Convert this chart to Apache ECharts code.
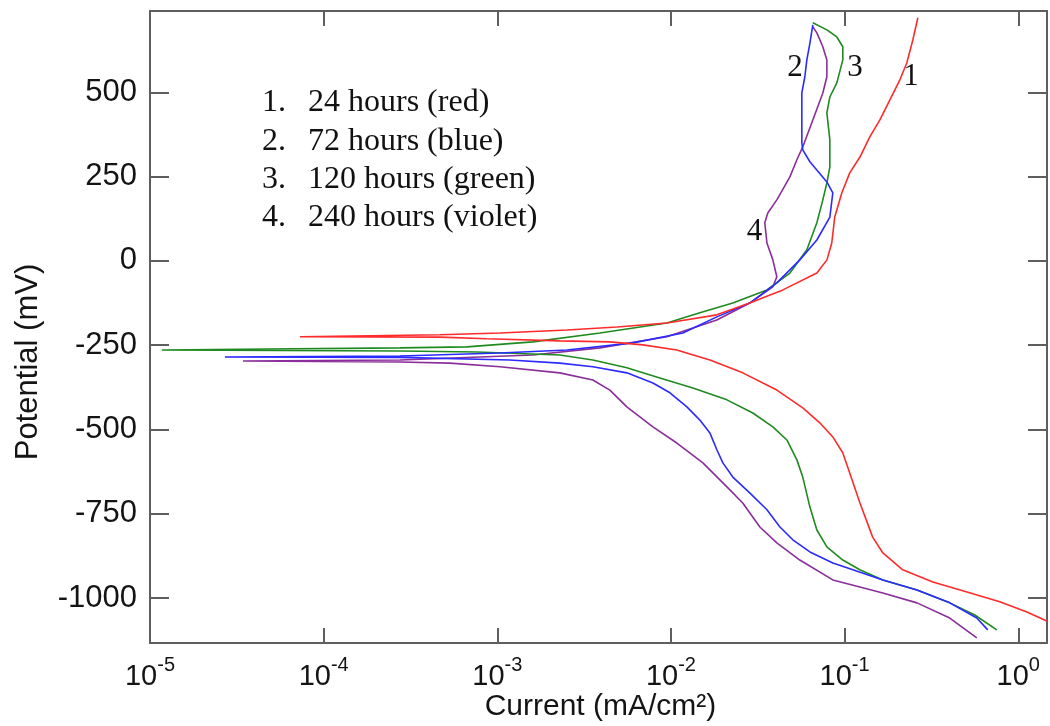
<!DOCTYPE html>
<html>
<head>
<meta charset="utf-8">
<script src="https://cdn.jsdelivr.net/npm/echarts@6/dist/echarts.min.js"></script>
<style>
  html, body { margin: 0; padding: 0; background: #fff; }
  #chart { width: 1050px; height: 726px; }
</style>
</head>
<body>
<div id="chart"></div>
<script>
// Potentiodynamic polarization curves: [current density (mA/cm²), potential (mV)]
// Each scan runs from the cathodic end up through Ecorr and on to the anodic end.
const curve24h = [
  [1.459, -1068], [1.12, -1041], [0.782, -1011], [0.506, -982], [0.322, -952],
  [0.216, -916], [0.166, -866], [0.145, -819], [0.1225, -718], [0.107, -629],
  [0.0975, -569], [0.0855, -522], [0.0719, -480], [0.0574, -436], [0.0407, -383],
  [0.0259, -332], [0.01675, -294], [0.0108, -264], [0.00689, -249], [0.00445, -240],
  [0.00229, -237], [0.00087, -231], [0.000468, -226], [7.3e-5, -225],
  [7.3e-5, -222], [0.000468, -219], [0.001035, -214], [0.00252, -205], [0.00489, -196],
  [0.00946, -184], [0.01837, -160], [0.0284, -125], [0.0441, -86], [0.0692, -36],
  [0.0791, 3], [0.0843, 53], [0.0877, 130], [0.0964, 202], [0.107, 261],
  [0.1225, 308], [0.1396, 368], [0.1596, 418], [0.182, 477], [0.208, 537],
  [0.228, 587], [0.247, 655], [0.264, 721]
];

const curve72h = [
  [0.667, -1094], [0.577, -1059], [0.403, -1014], [0.261, -976], [0.166, -946],
  [0.1115, -916], [0.0855, -896], [0.0631, -863], [0.0503, -827], [0.0424, -789],
  [0.0357, -738], [0.0284, -688], [0.0227, -641], [0.0199, -599], [0.01837, -560],
  [0.01675, -510], [0.01467, -472], [0.01235, -433], [0.00986, -391], [0.00787, -362],
  [0.00557, -332], [0.00355, -314], [0.00229, -303], [0.00118, -294], [0.000275, -286],
  [2.7e-5, -285],
  [0.000275, -282], [0.001035, -273], [0.00252, -264], [0.00604, -243], [0.01171, -214],
  [0.01837, -166], [0.0284, -125], [0.0407, -65], [0.0552, 3], [0.0692, 62],
  [0.0822, 130], [0.0855, 202], [0.079, 234], [0.0631, 294], [0.0574, 329],
  [0.0567, 350], [0.0567, 418], [0.0567, 498], [0.059, 546], [0.0606, 596],
  [0.0631, 646], [0.0656, 700]
];

const curve120h = [
  [0.752, -1094], [0.562, -1050], [0.403, -1014], [0.261, -976], [0.166, -946],
  [0.1223, -916], [0.0976, -887], [0.079, -848], [0.0692, -798], [0.0631, -730],
  [0.0574, -641], [0.0531, -590], [0.0465, -531], [0.0386, -492], [0.0296, -451],
  [0.021, -412], [0.01337, -377], [0.00863, -347], [0.00557, -317], [0.00355, -294],
  [0.00229, -279], [0.000763, -270], [0.000275, -267], [1.17e-5, -264],
  [1.17e-5, -261], [0.000275, -258], [0.000668, -255], [0.0016, -240], [0.0039, -214],
  [0.00947, -184], [0.01467, -154], [0.0227, -125], [0.0357, -86], [0.0484, -36],
  [0.0606, 33], [0.0692, 113], [0.0749, 181], [0.079, 231], [0.0822, 279],
  [0.0822, 359], [0.079, 439], [0.0822, 486], [0.0902, 528], [0.0976, 596],
  [0.0976, 635], [0.0902, 664], [0.079, 685], [0.0656, 706]
];

const curve240h = [
  [0.577, -1118], [0.403, -1059], [0.261, -1014], [0.166, -985], [0.1223, -967],
  [0.0855, -946], [0.0552, -887], [0.0407, -836], [0.0325, -789], [0.0259, -718],
  [0.021, -670], [0.01527, -599], [0.01081, -540], [0.00787, -492], [0.00557, -433],
  [0.00445, -383], [0.00355, -353], [0.00229, -332], [0.001035, -314], [0.000533, -303],
  [0.000275, -300], [3.43e-5, -297],
  [0.000275, -294], [0.0016, -279], [0.0039, -258], [0.00947, -225], [0.01837, -175],
  [0.0284, -125], [0.0386, -77], [0.0407, -47], [0.0386, 3], [0.0357, 53],
  [0.0347, 113], [0.0361, 142], [0.0407, 181], [0.0484, 249], [0.0531, 300],
  [0.0574, 338], [0.0656, 418], [0.0749, 498], [0.079, 546], [0.079, 596],
  [0.0749, 635], [0.0692, 676], [0.0656, 694]
];

const seriesNames = ['24 hours', '72 hours', '120 hours', '240 hours'];
const seriesColors = ['#ff2b2b', '#2b2bff', '#1f8a1f', '#8a2e9a'];
const seriesData = [curve24h, curve72h, curve120h, curve240h];

// Axis ticks and text
const potentialTicks = [-1000, -750, -500, -250, 0, 250, 500];
const currentMin = 1e-5;
const currentMax = 1.4633;
const potentialMin = -1133;
const potentialMax = 741;

// Key listed inside the plot
const keyNumbers = ['1.', '2.', '3.', '4.'];
const keyTexts = ['24 hours (red)', '72 hours (blue)', '120 hours (green)', '240 hours (violet)'];

// Curve tags and the data point each tag sits beside
const curveTags = ['1', '2', '3', '4'];
const tagAnchors = [[0.241, 547], [0.0518, 573], [0.1148, 573], [0.0303, 85]];

const axisGray = '#5e5e5e';
const textColor = '#141414';
const sans = '"Liberation Sans", Arial, sans-serif';
const serif = '"Liberation Serif", "Times New Roman", serif';

function powerLabel(v) {
  const lg = Math.log10(v);
  const e = Math.round(lg);
  if (Math.abs(lg - e) > 1e-6) return '';
  return '{b|10}{s|' + e + '}';
}

const chart = echarts.init(document.getElementById('chart'), null, { renderer: 'canvas' });

const frameLine = { show: true, onZero: false, lineStyle: { color: axisGray, width: 2 } };
const tickStyle = { color: axisGray, width: 2 };

chart.setOption({
  animation: false,
  backgroundColor: '#fff',
  grid: { left: 150, right: 3, top: 11, bottom: 83, containLabel: false, outerBoundsMode: 'none' },
  xAxis: [
    {
      type: 'log', logBase: 10, min: currentMin, max: currentMax, position: 'bottom',
      axisLine: frameLine,
      axisTick: { show: true, inside: true, length: 15, lineStyle: tickStyle },
      minorTick: { show: false }, splitLine: { show: false }, minorSplitLine: { show: false },
      axisLabel: {
        show: true, margin: 12, showMaxLabel: false,
        formatter: powerLabel,
        rich: {
          b: { fontSize: 29, fontFamily: sans, color: textColor },
          s: { fontSize: 20, fontFamily: sans, color: textColor, padding: [0, 0, 24, 0] }
        }
      },
      name: 'Current (mA/cm²)', nameLocation: 'middle', nameGap: 49, nameMoveOverlap: false,
      nameTextStyle: { fontSize: 30, fontFamily: sans, color: textColor, padding: [0, 0, 0, 4] }
    },
    {
      type: 'log', logBase: 10, min: currentMin, max: currentMax, position: 'top',
      axisLine: frameLine,
      axisTick: { show: true, inside: true, length: 15, lineStyle: tickStyle },
      axisLabel: { show: false }, splitLine: { show: false }, minorTick: { show: false }
    }
  ],
  yAxis: [
    {
      type: 'value', min: potentialMin, max: potentialMax, position: 'left',
      axisLine: frameLine,
      axisTick: { show: true, inside: true, length: 19, customValues: potentialTicks, lineStyle: tickStyle },
      splitLine: { show: false },
      axisLabel: { show: true, margin: 13, customValues: potentialTicks,
                   formatter: v => String(v),
                   fontSize: 31, fontFamily: sans, color: textColor },
      name: 'Potential (mV)', nameLocation: 'middle', nameGap: 106, nameMoveOverlap: false,
      nameTextStyle: { fontSize: 31, fontFamily: sans, color: textColor, padding: [0, 70, 0, 0] }
    },
    {
      type: 'value', min: potentialMin, max: potentialMax, position: 'right',
      axisLine: frameLine,
      axisTick: { show: true, inside: true, length: 19, customValues: potentialTicks, lineStyle: tickStyle },
      splitLine: { show: false },
      axisLabel: { show: false, customValues: potentialTicks }
    }
  ],
  series: seriesData.map((d, i) => ({
    name: seriesNames[i],
    type: 'line',
    xAxisIndex: 0, yAxisIndex: 0,
    data: d,
    showSymbol: false,
    symbol: 'none',
    clip: true,
    lineStyle: { color: seriesColors[i], width: 1.6 },
    itemStyle: { color: seriesColors[i] },
    z: 10 - i
  }))
});

// Key text and curve tags
const graphics = [];
keyNumbers.forEach((n, i) => {
  const cy = 104 + i * 38.3;
  graphics.push({
    type: 'text', left: 262, top: cy - 17, z: 20,
    style: { text: n, font: '32px ' + serif, fill: '#111' }
  });
  graphics.push({
    type: 'text', left: 308, top: cy - 17, z: 20,
    style: { text: keyTexts[i], font: '32px ' + serif, fill: '#111' }
  });
});
curveTags.forEach((t, i) => {
  const p = chart.convertToPixel({ xAxisIndex: 0, yAxisIndex: 0 }, tagAnchors[i]);
  graphics.push({
    type: 'text', x: p[0], y: p[1], z: 20,
    style: { text: t, font: '31px ' + serif, fill: '#111', align: 'center', verticalAlign: 'middle' }
  });
});
chart.setOption({ graphic: graphics });
</script>
</body>
</html>
